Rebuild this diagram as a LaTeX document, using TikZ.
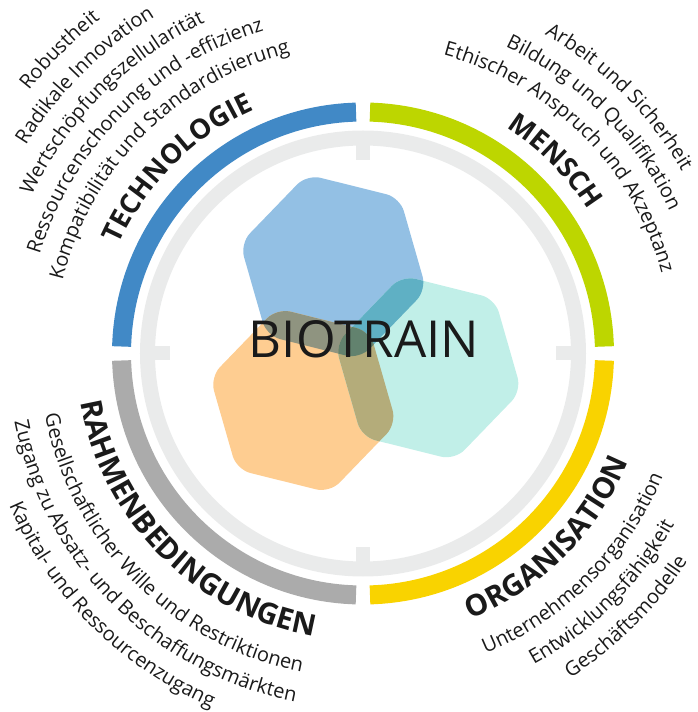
\documentclass[tikz,border=0pt]{standalone}
\usepackage{fontspec}
\setmainfont{Open Sans}
\usetikzlibrary{decorations.text}
\definecolor{ringblue}{HTML}{4189C6}
\definecolor{ringgreen}{HTML}{BDD600}
\definecolor{ringyellow}{HTML}{F9D300}
\definecolor{ringgray}{HTML}{ABABAB}
\definecolor{lightring}{HTML}{EAEBEB}
\definecolor{hexblue}{HTML}{93C0E4}
\definecolor{hexorange}{HTML}{FECD91}
\definecolor{hexteal}{HTML}{C1EFE8}
\definecolor{ovbt}{HTML}{5FB0C4}
\definecolor{ovbo}{HTML}{8F9480}
\definecolor{ovot}{HTML}{B4AC7A}
\definecolor{ovall}{HTML}{62826E}
\definecolor{txtc}{HTML}{1A1A1A}
\newcommand{\ttlfnt}{\fontsize{27.5}{27.5}\selectfont\bfseries}
\newcommand{\ttlfntb}{\fontsize{29.5}{29.5}\selectfont\bfseries}
\newcommand{\subfnt}{\fontsize{20}{20}\selectfont}
\newcommand{\hexpts}[1]{([shift={(#1)}]-14:96pt) -- ([shift={(#1)}]46:96pt) -- ([shift={(#1)}]106:96pt) -- ([shift={(#1)}]166:96pt) -- ([shift={(#1)}]226:96pt) -- ([shift={(#1)}]286:96pt) -- cycle}
\tikzset{
  ringseg/.style={line width=19pt},
  curvetxt/.style={decorate, decoration={text along path, text align=center, text color=txtc, text={#1}}},
  hexround/.style={rounded corners=14pt}
}
\begin{document}
\begin{tikzpicture}[x=1pt,y=1pt]
\useasboundingbox (-363,-358.5) rectangle (335,353.5);
% light inner ring and ticks
\draw[lightring, line width=15pt] (0,0) circle[radius=215.5pt];
\fill[lightring] (-7,193) rectangle (7,210);
\fill[lightring] (-7,-193) rectangle (7,-210);
\fill[lightring] (193,-7) rectangle (210,7);
\fill[lightring] (-193,-7) rectangle (-210,7);
% coloured ring segments
\draw[ringseg, ringblue] (91.66:241.5pt) arc[start angle=91.66, end angle=178.34, radius=241.5pt];
\draw[ringseg, ringgreen] (1.66:241.5pt) arc[start angle=1.66, end angle=88.34, radius=241.5pt];
\draw[ringseg, ringgray] (181.66:241.5pt) arc[start angle=181.66, end angle=268.34, radius=241.5pt];
\draw[ringseg, ringyellow] (271.66:241.5pt) arc[start angle=271.66, end angle=358.34, radius=241.5pt];
% hexagons
\coordinate (hb) at (-29.7,86.8);
\coordinate (ho) at (-59.7,-47);
\coordinate (ht) at (65.3,-14.3);
\fill[hexblue, hexround] \hexpts{hb};
\fill[hexorange, hexround] \hexpts{ho};
\fill[hexteal, hexround] \hexpts{ht};
\begin{scope}
  \clip[hexround] \hexpts{hb};
  \fill[ovbt, hexround] \hexpts{ht};
\end{scope}
\begin{scope}
  \clip[hexround] \hexpts{hb};
  \fill[ovbo, hexround] \hexpts{ho};
\end{scope}
\begin{scope}
  \clip[hexround] \hexpts{ho};
  \fill[ovot, hexround] \hexpts{ht};
\end{scope}
\begin{scope}
  \clip[hexround] \hexpts{hb};
  \clip[hexround] \hexpts{ho};
  \fill[ovall, hexround] \hexpts{ht};
\end{scope}
\node[text=txtc, font=\fontsize{51}{51}\selectfont, inner sep=0pt] (title) at (1,14.5) {BIOTRAIN};
% TECHNOLOGIE (top left)
\path[curvetxt={|\ttlfnt|TECHNOLOGIE}] (225:267pt) arc[start angle=225, end angle=45, radius=267pt];
\path[curvetxt={|\subfnt|Kompatibilität und Standardisierung}] (225:309pt) arc[start angle=225, end angle=45, radius=309pt];
\path[curvetxt={|\subfnt|Ressourcenschonung und -effizienz}] (225:338pt) arc[start angle=225, end angle=45, radius=338pt];
\path[curvetxt={|\subfnt|Wertschöpfungszellularität}] (225:367pt) arc[start angle=225, end angle=45, radius=367pt];
\path[curvetxt={|\subfnt|Radikale Innovation}] (225:396pt) arc[start angle=225, end angle=45, radius=396pt];
\path[curvetxt={|\subfnt|Robustheit}] (225:425pt) arc[start angle=225, end angle=45, radius=425pt];
% MENSCH (top right)
\path[curvetxt={|\ttlfnt|MENSCH}] (135:267pt) arc[start angle=135, end angle=-45, radius=267pt];
\path[curvetxt={|\subfnt|Ethischer Anspruch und Akzeptanz}] (135:309pt) arc[start angle=135, end angle=-45, radius=309pt];
\path[curvetxt={|\subfnt|Bildung und Qualifikation}] (135:338pt) arc[start angle=135, end angle=-45, radius=338pt];
\path[curvetxt={|\subfnt|Arbeit und Sicherheit}] (135:367pt) arc[start angle=135, end angle=-45, radius=367pt];
% RAHMENBEDINGUNGEN (bottom left)
\path[curvetxt={|\ttlfntb|RAHMENBEDINGUNGEN}] (135:286.5pt) arc[start angle=135, end angle=315, radius=286.5pt];
\path[curvetxt={|\subfnt|Gesellschaftlicher Wille und Restriktionen}] (135:324pt) arc[start angle=135, end angle=315, radius=324pt];
\path[curvetxt={|\subfnt|Zugang zu Absatz- und Beschaffungsmärkten}] (135:355pt) arc[start angle=135, end angle=315, radius=355pt];
\path[curvetxt={|\subfnt|Kapital- und Ressourcenzugang}] (135:385pt) arc[start angle=135, end angle=315, radius=385pt];
% ORGANISATION (bottom right)
\path[curvetxt={|\ttlfntb|ORGANISATION}] (225:286.5pt) arc[start angle=225, end angle=405, radius=286.5pt];
\path[curvetxt={|\subfnt|Unternehmensorganisation}] (225:324pt) arc[start angle=225, end angle=405, radius=324pt];
\path[curvetxt={|\subfnt|Entwicklungsfähigkeit}] (225:355pt) arc[start angle=225, end angle=405, radius=355pt];
\path[curvetxt={|\subfnt|Geschäftsmodelle}] (225:385pt) arc[start angle=225, end angle=405, radius=385pt];
\end{tikzpicture}
\end{document}
